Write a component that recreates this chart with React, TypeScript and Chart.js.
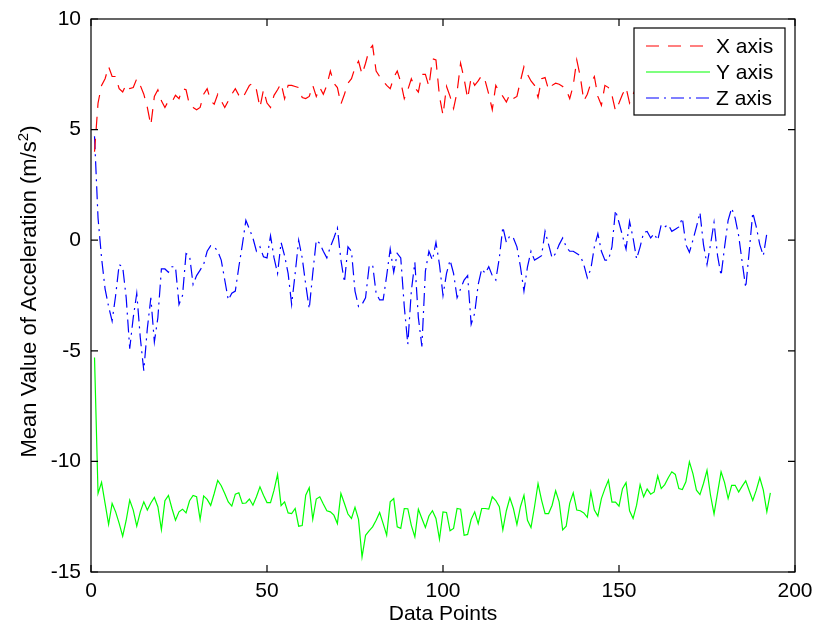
import React, { useEffect, useRef } from 'react';
import { Chart, registerables } from 'chart.js';

Chart.register(...registerables);

// Mean acceleration per data point, one array per accelerometer axis.
const xAxisMean = [
  4.0, 6.2, 7.0, 7.3, 7.85, 7.4, 7.4, 6.85, 6.7, 7.05,
  6.85, 6.9, 7.3, 7.0, 6.6, 6.0, 5.2, 6.5, 6.8, 6.3,
  6.0, 6.3, 6.25, 6.55, 6.4, 6.85, 6.8, 6.1, 6.0, 5.9,
  6.0, 6.6, 6.85, 6.3, 6.15, 6.6, 6.3, 6.0, 6.3, 6.6,
  6.85, 6.55, 6.4, 6.7, 7.0, 7.1, 6.8, 6.0, 6.8, 6.2,
  6.0, 6.55, 6.8, 7.1, 6.4, 7.0, 7.0, 6.95, 6.9, 6.45,
  6.4, 6.5, 7.0, 6.5, 6.9, 6.6, 7.0, 7.65, 7.1, 6.9,
  6.15, 6.6, 7.1, 7.3, 7.8, 8.1, 7.5, 8.0, 8.6, 8.8,
  7.65, 7.4, 7.2, 7.0, 6.85, 7.35, 7.65, 7.15, 6.4, 6.8,
  7.3, 6.9, 6.7, 7.5, 7.5, 6.95, 8.2, 8.15, 6.5, 5.65,
  6.95, 6.5, 5.95, 6.7, 8.0, 7.3, 6.4, 7.35, 7.0, 7.2,
  7.45, 7.2, 6.6, 5.9, 7.0, 6.7, 6.5, 6.25, 6.6, 6.4,
  6.5, 7.2, 7.85, 7.5, 7.2, 7.0, 6.45, 7.3, 7.35, 6.8,
  7.0, 7.1, 7.05, 6.95, 6.8, 6.4, 7.0, 8.15, 7.4, 6.3,
  6.6, 7.1, 7.4, 6.5, 6.1, 7.0, 6.9, 6.55, 5.85, 6.2,
  6.6, 6.9, 6.2, 6.6, 6.9, 7.2, 6.5, 6.8, 7.1, 6.4,
  6.9, 7.3, 6.7, 6.5, 7.0, 7.4, 6.8, 6.3, 6.9, 7.2,
  6.6, 7.0, 7.5, 6.9, 6.4, 6.8, 7.1, 6.7, 7.3, 6.6,
  6.9, 7.2, 6.5, 6.8, 7.0, 7.4, 6.7, 6.4, 6.9, 7.1,
  6.6, 7.0, 6.8,
];

const yAxisMean = [
  -5.3, -11.45, -10.95, -11.9, -12.85, -11.9, -12.28, -12.8, -13.38, -12.66,
  -11.75, -12.2, -12.93, -12.28, -11.83, -12.2, -11.88, -11.63, -12.05, -13.08,
  -11.78, -11.54, -12.13, -12.66, -12.28, -12.16, -12.33, -11.78, -11.54, -11.6,
  -12.63, -11.56, -11.72, -11.99, -11.45, -10.86, -11.1, -11.45, -11.83, -12.02,
  -11.48, -11.42, -11.9, -11.88, -11.7, -11.98, -11.6, -11.15, -11.53, -11.86,
  -11.86, -11.3, -10.59, -12.0, -11.83, -12.33, -12.36, -12.13, -12.93, -12.9,
  -11.53, -11.19, -12.62, -11.7, -11.6, -11.93, -12.23, -12.28, -12.43, -12.81,
  -11.45, -11.9, -12.38, -12.58, -12.08, -12.62, -14.32, -13.34, -13.14, -12.96,
  -12.66, -12.31, -12.81, -13.34, -11.83, -11.68, -12.96, -13.03, -12.13, -12.14,
  -12.89, -13.41, -12.16, -12.58, -12.99, -12.47, -12.23, -12.58, -13.52, -12.28,
  -12.31, -13.14, -13.03, -12.13, -12.16, -13.34, -13.3, -12.62, -12.28, -12.81,
  -12.13, -12.13, -12.16, -11.6, -11.77, -12.05, -13.1, -12.23, -11.65, -12.13,
  -12.86, -12.05, -11.53, -12.66, -12.99, -12.05, -11.0, -11.75, -12.36, -12.36,
  -11.98, -11.33, -11.83, -13.1, -12.93, -11.9, -11.42, -12.2, -12.23, -12.33,
  -12.53, -11.38, -12.2, -12.47, -11.68, -11.23, -10.85, -11.84, -11.84, -12.02,
  -11.23, -10.96, -12.23, -12.58, -11.98, -11.05, -11.6, -11.25, -11.48, -11.38,
  -10.65, -11.23, -11.05, -10.74, -10.47, -10.59, -11.23, -11.27, -10.92, -10.02,
  -10.55, -11.3, -11.5, -11.0, -10.4, -11.53, -12.38, -11.42, -10.47, -10.96,
  -11.68, -11.08, -11.08, -11.38, -11.12, -10.88, -11.33, -11.77, -11.3, -10.74,
  -11.3, -12.28, -11.42,
];

const zAxisMean = [
  4.7, 1.0, -0.8, -2.2, -3.0, -3.65, -2.5, -1.1, -1.2, -2.6,
  -4.9, -3.5, -2.4, -4.4, -5.9, -4.0, -2.6, -4.6, -3.5, -1.3,
  -1.3, -1.45, -1.2, -1.2, -2.9, -2.5, -0.6, -0.7, -2.0, -1.6,
  -1.35, -1.1, -0.5, -0.25, -0.3, -0.5, -0.9, -1.8, -2.7, -2.4,
  -2.3, -1.2, -0.2, 0.9, 0.5, 0.1, -0.5, -0.3, -0.75, -0.8,
  0.2, -0.8, -1.5, -0.1, -0.7, -1.5, -2.9, -1.5, 0.0, -0.8,
  -2.0, -3.1, -1.5, 0.0, -0.15, -0.5, -0.8, -0.3, 0.1, 0.55,
  -0.9, -1.9, -0.3, -0.5, -2.3, -3.0, -2.9, -2.6, -1.2, -1.1,
  -2.4, -2.7, -2.7, -1.6, -0.4, -1.45, -0.6, -0.8, -3.0, -4.7,
  -2.3, -1.0, -3.5, -4.8, -1.4, -0.5, -0.9, -0.1, -1.1, -2.5,
  -1.5, -0.9, -1.5, -2.6, -2.2, -1.8, -1.6, -3.8, -3.3, -2.0,
  -1.3, -1.5, -1.2, -1.6, -1.8, -0.8, 0.6, -0.1, 0.2, 0.1,
  -0.3, -1.2, -2.3, -1.2, -0.5, -0.9, -0.8, -0.7, 0.4, -0.2,
  -0.8, -0.6, -0.2, 0.1, -0.3, -0.5, -0.5, -0.6, -0.7, -1.1,
  -1.7, -1.3, -0.3, 0.3, -0.5, -0.9, -0.9, -0.3, 1.35, 0.8,
  0.2, -0.4, 0.85, 0.1, -0.85, -0.3, 0.35, 0.4, 0.1, 0.3,
  0.0, 0.7, 0.6, 0.7, 0.4, 0.5, 0.6, 1.0, -0.2, -0.55,
  0.0, 0.6, 1.25, -0.2, -1.1, -0.2, 0.8, -0.7, -1.6, -0.3,
  0.9, 1.45, 1.0, 0.2, -1.0, -2.15, -0.5, 1.25, 0.6, -0.2,
  -0.7, 0.3, 0.3,
];

const seriesNames = ['X axis', 'Y axis', 'Z axis'];
const seriesColors = ['#ff0000', '#00ff00', '#0000ff'];
const seriesDashes: number[][] = [[13, 9], [], [13, 5, 2, 5]];

const xTickValues = [0, 50, 100, 150, 200];
const yTickValues = [-15, -10, -5, 0, 5, 10];

const xTitle = 'Data Points';
const yTitleMain = 'Mean Value of Acceleration (m/s';
const yTitleSup = '2';
const yTitleEnd = ')';

const FONT_FAMILY = '"Liberation Sans", Arial, Helvetica, sans-serif';
const FONT_SIZE = 21;
const Y_TITLE_SIZE = 22;

const toPoints = (values: number[]) => values.map((v, i) => ({ x: i + 1, y: v }));

// Box around the axes with inward tick marks on all four sides.
const framePlugin = {
  id: 'matlabFrame',
  afterDatasetsDraw(chart: any) {
    const { ctx, chartArea: a, scales } = chart;
    const tick = 7;
    ctx.save();
    ctx.strokeStyle = '#000';
    ctx.lineWidth = 1.2;
    ctx.setLineDash([]);
    ctx.strokeRect(a.left, a.top, a.right - a.left, a.bottom - a.top);
    ctx.beginPath();
    xTickValues.forEach((v) => {
      const px = scales.x.getPixelForValue(v);
      ctx.moveTo(px, a.bottom);
      ctx.lineTo(px, a.bottom - tick);
      ctx.moveTo(px, a.top);
      ctx.lineTo(px, a.top + tick);
    });
    yTickValues.forEach((v) => {
      const py = scales.y.getPixelForValue(v);
      ctx.moveTo(a.left, py);
      ctx.lineTo(a.left + tick, py);
      ctx.moveTo(a.right, py);
      ctx.lineTo(a.right - tick, py);
    });
    ctx.stroke();
    ctx.restore();
  },
};

// Boxed legend in the upper right corner, drawn over the data.
const legendPlugin = {
  id: 'boxLegend',
  afterDatasetsDraw(chart: any) {
    const { ctx, chartArea: a } = chart;
    const boxW = 151;
    const boxH = 87;
    const boxX = a.right - 10 - boxW;
    const boxY = a.top + 9;
    ctx.save();
    ctx.fillStyle = '#ffffff';
    ctx.fillRect(boxX, boxY, boxW, boxH);
    ctx.strokeStyle = '#000';
    ctx.lineWidth = 1.2;
    ctx.setLineDash([]);
    ctx.strokeRect(boxX, boxY, boxW, boxH);
    ctx.font = `${FONT_SIZE}px ${FONT_FAMILY}`;
    ctx.textBaseline = 'middle';
    ctx.textAlign = 'left';
    seriesNames.forEach((name, i) => {
      const cy = boxY + 18 + i * 26;
      ctx.beginPath();
      ctx.strokeStyle = seriesColors[i];
      ctx.lineWidth = 1.2;
      ctx.setLineDash(seriesDashes[i]);
      ctx.moveTo(boxX + 12, cy);
      ctx.lineTo(boxX + 76, cy);
      ctx.stroke();
      ctx.setLineDash([]);
      ctx.fillStyle = '#000';
      ctx.fillText(name, boxX + 82, cy + 1);
    });
    ctx.restore();
  },
};

// Axis titles; the vertical one carries a superscript unit exponent.
const titlesPlugin = {
  id: 'axisTitles',
  afterDraw(chart: any) {
    const { ctx, chartArea: a } = chart;
    ctx.save();
    ctx.fillStyle = '#000';
    ctx.font = `${FONT_SIZE}px ${FONT_FAMILY}`;
    ctx.textBaseline = 'alphabetic';
    ctx.textAlign = 'center';
    ctx.fillText(xTitle, (a.left + a.right) / 2, 620);

    const supFont = `${Math.round(Y_TITLE_SIZE * 0.7)}px ${FONT_FAMILY}`;
    const mainFont = `${Y_TITLE_SIZE}px ${FONT_FAMILY}`;
    ctx.font = mainFont;
    const wMain = ctx.measureText(yTitleMain).width;
    const wEnd = ctx.measureText(yTitleEnd).width;
    ctx.font = supFont;
    const wSup = ctx.measureText(yTitleSup).width;
    const total = wMain + wSup + wEnd;
    ctx.translate(36, (a.top + a.bottom) / 2 - 4);
    ctx.rotate(-Math.PI / 2);
    ctx.textAlign = 'left';
    let x = -total / 2;
    ctx.font = mainFont;
    ctx.fillText(yTitleMain, x, 0);
    x += wMain;
    ctx.font = supFont;
    ctx.fillText(yTitleSup, x, -8);
    x += wSup;
    ctx.font = mainFont;
    ctx.fillText(yTitleEnd, x, 0);
    ctx.restore();
  },
};

export default function App() {
  const canvasRef = useRef<HTMLCanvasElement | null>(null);

  useEffect(() => {
    if (!canvasRef.current) return;
    const chart = new Chart(canvasRef.current, {
      type: 'line',
      data: {
        datasets: [xAxisMean, yAxisMean, zAxisMean].map((values, i) => ({
          label: seriesNames[i],
          data: toPoints(values),
          borderColor: seriesColors[i],
          backgroundColor: seriesColors[i],
          borderWidth: 1.2,
          borderDash: seriesDashes[i],
          pointRadius: 0,
          tension: 0,
          fill: false,
        })),
      },
      options: {
        animation: false,
        responsive: false,
        devicePixelRatio: 1,
        layout: { padding: { top: 19, right: 20, left: 0, bottom: 0 } },
        plugins: {
          legend: { display: false },
          tooltip: { enabled: false },
        },
        scales: {
          x: {
            type: 'linear',
            min: 0,
            max: 200,
            afterFit: (scale: any) => {
              scale.height = 60;
              scale.paddingLeft = 0;
              scale.paddingRight = 0;
            },
            afterBuildTicks: (scale: any) => {
              scale.ticks = xTickValues.map((v) => ({ value: v }));
            },
            grid: { display: false, drawTicks: false },
            border: { display: false },
            ticks: {
              padding: 7,
              color: '#000',
              font: { family: FONT_FAMILY, size: FONT_SIZE },
              maxRotation: 0,
            },
          },
          y: {
            type: 'linear',
            min: -15,
            max: 10,
            afterFit: (scale: any) => {
              scale.width = 91;
              scale.paddingTop = 0;
              scale.paddingBottom = 0;
            },
            afterBuildTicks: (scale: any) => {
              scale.ticks = yTickValues.map((v) => ({ value: v }));
            },
            grid: { display: false, drawTicks: false },
            border: { display: false },
            ticks: {
              padding: 10,
              color: '#000',
              font: { family: FONT_FAMILY, size: FONT_SIZE },
            },
          },
        },
      },
      plugins: [framePlugin, legendPlugin, titlesPlugin],
    });
    return () => chart.destroy();
  }, []);

  return (
    <div style={{ position: 'fixed', left: 0, top: 0, width: 815, height: 632, background: '#fff' }}>
      <canvas ref={canvasRef} width={815} height={632} style={{ display: 'block' }} />
    </div>
  );
}
